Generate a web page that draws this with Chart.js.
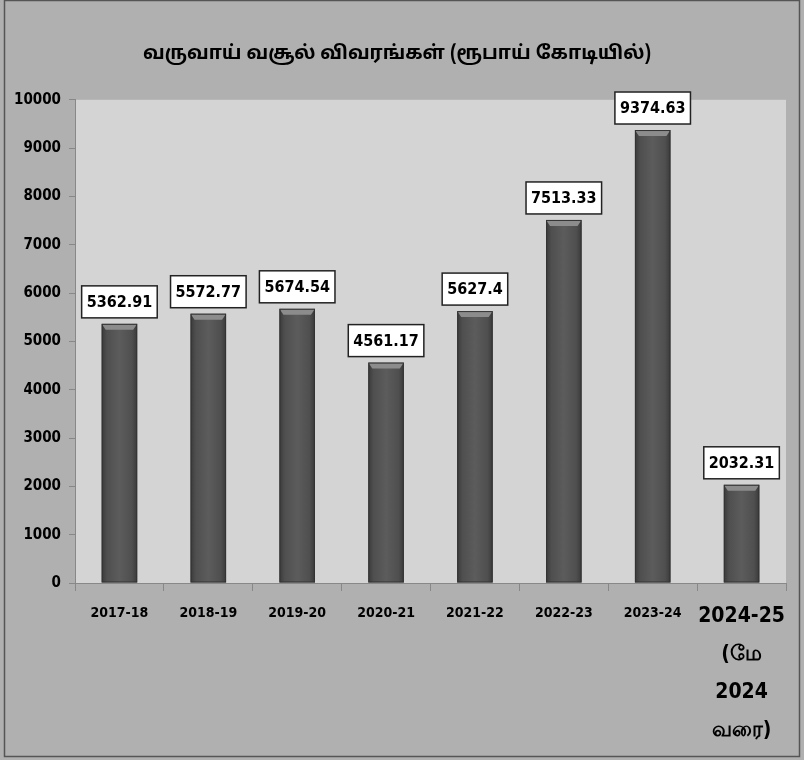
<!DOCTYPE html>
<html>
<head>
<meta charset="utf-8">
<script src="https://cdn.jsdelivr.net/npm/chart.js@4/dist/chart.umd.min.js"></script>
<style>
  html, body { margin: 0; padding: 0; background: #b0b0b0; }
  #wrap { width: 804px; height: 760px; position: relative; }
</style>
</head>
<body>
<div id="wrap"><canvas id="revChart" width="804" height="760"></canvas></div>
<script>
// Data
var years = ["2017-18", "2018-19", "2019-20", "2020-21", "2021-22", "2022-23", "2023-24",
    ["2024-25", "(மே", "2024", "வரை)"]];
var revenue = [5362.91, 5572.77, 5674.54, 4561.17, 5627.4, 7513.33, 9374.63, 2032.31];
var revenueText = ["5362.91", "5572.77", "5674.54", "4561.17", "5627.4", "7513.33", "9374.63", "2032.31"];
var titleText = "வருவாய் வசூல் விவரங்கள் (ரூபாய் கோடியில்)";

var fontFam = "'DejaVu Sans Condensed', 'Liberation Sans Narrow', 'Liberation Sans', Arial, sans-serif";

// background, plot area and frame
var framePlugin = {
    id: "frame",
    beforeDraw: function (chart) {
        var c = chart.ctx, a = chart.chartArea;
        c.save();
        c.fillStyle = "#b0b0b0";
        c.fillRect(0, 0, chart.width, chart.height);
        c.fillStyle = "#d4d4d4";
        c.fillRect(a.left, a.top, a.right - a.left, a.bottom - a.top);
        c.strokeStyle = "#555";
        c.lineWidth = 1.5;
        c.strokeRect(4.5, 0.5, chart.width - 9, chart.height - 4);
        c.restore();
    }
};

// shading on the bars and the value boxes above them
var barLabelPlugin = {
    id: "barLabels",
    afterDatasetsDraw: function (chart) {
        var c = chart.ctx;
        var meta = chart.getDatasetMeta(0);
        c.save();
        meta.data.forEach(function (bar, i) {
            var w = bar.width, x0 = bar.x - w / 2, top = bar.y, bot = bar.base;
            var g = c.createLinearGradient(x0, 0, x0 + w, 0);
            g.addColorStop(0, "#3a3a3a");
            g.addColorStop(0.15, "#4f4f4f");
            g.addColorStop(0.5, "#5c5c5c");
            g.addColorStop(0.85, "#4f4f4f");
            g.addColorStop(1, "#3a3a3a");
            c.fillStyle = g;
            c.fillRect(x0, top, w, bot - top);
            // top bevel
            c.fillStyle = "#8c8c8c";
            c.beginPath();
            c.moveTo(x0, top);
            c.lineTo(x0 + w, top);
            c.lineTo(x0 + w - 4, top + 6);
            c.lineTo(x0 + 4, top + 6);
            c.closePath();
            c.fill();
            c.strokeStyle = "#333";
            c.lineWidth = 1;
            c.strokeRect(x0 + 0.5, top + 0.5, w - 1, bot - top - 1);

            // value box
            c.font = "bold 16px " + fontFam;
            var txt = revenueText[i];
            var tw = c.measureText(txt).width;
            var bw = tw + 10, bh = 32;
            var bx = bar.x - bw / 2, by = top - 6 - bh;
            c.fillStyle = "#ffffff";
            c.fillRect(bx, by, bw, bh);
            c.strokeStyle = "#222";
            c.lineWidth = 1.5;
            c.strokeRect(bx, by, bw, bh);
            c.fillStyle = "#000";
            c.textAlign = "center";
            c.textBaseline = "middle";
            c.fillText(txt, bar.x, by + bh / 2 + 1);
        });
        c.restore();
    }
};

var ctx = document.getElementById("revChart").getContext("2d");
new Chart(ctx, {
    type: "bar",
    data: {
        labels: years,
        datasets: [{
            data: revenue,
            backgroundColor: "rgba(0,0,0,0)",
            borderWidth: 0,
            barPercentage: 0.4,
            categoryPercentage: 1.0
        }]
    },
    options: {
        responsive: false,
        animation: false,
        layout: { padding: { left: 8, right: 18, bottom: 0 } },
        plugins: {
            legend: { display: false },
            tooltip: { enabled: false },
            title: {
                display: true,
                text: titleText,
                color: "#000",
                font: { family: "'Noto Sans Tamil', 'Lohit Tamil', " + fontFam, size: 19, weight: "bold" },
                padding: { top: 44, bottom: 33 }
            }
        },
        scales: {
            y: {
                min: 0,
                max: 10000,
                ticks: {
                    stepSize: 1000,
                    color: "#000",
                    padding: 8,
                    font: { family: fontFam, size: 15, weight: "bold" },
                    callback: function (v) { return String(v); }
                },
                grid: { drawOnChartArea: false, tickLength: 6, color: "#888" },
                border: { color: "#888" },
                afterFit: function (s) { s.width = 67; }
            },
            x: {
                ticks: {
                    color: "#000",
                    padding: 7,
                    maxRotation: 0,
                    autoSkip: false,
                    font: function (c) {
                        return c.index === 7
                            ? { family: fontFam, size: 21, weight: "bold", lineHeight: 1.8 }
                            : { family: fontFam, size: 14, weight: "bold", lineHeight: 2.2 };
                    }
                },
                grid: { drawOnChartArea: false, tickLength: 8, color: "#888", offset: true },
                border: { color: "#888" },
                afterFit: function (s) { s.height = 177; }
            }
        }
    },
    plugins: [framePlugin, barLabelPlugin]
});
</script>
</body>
</html>
